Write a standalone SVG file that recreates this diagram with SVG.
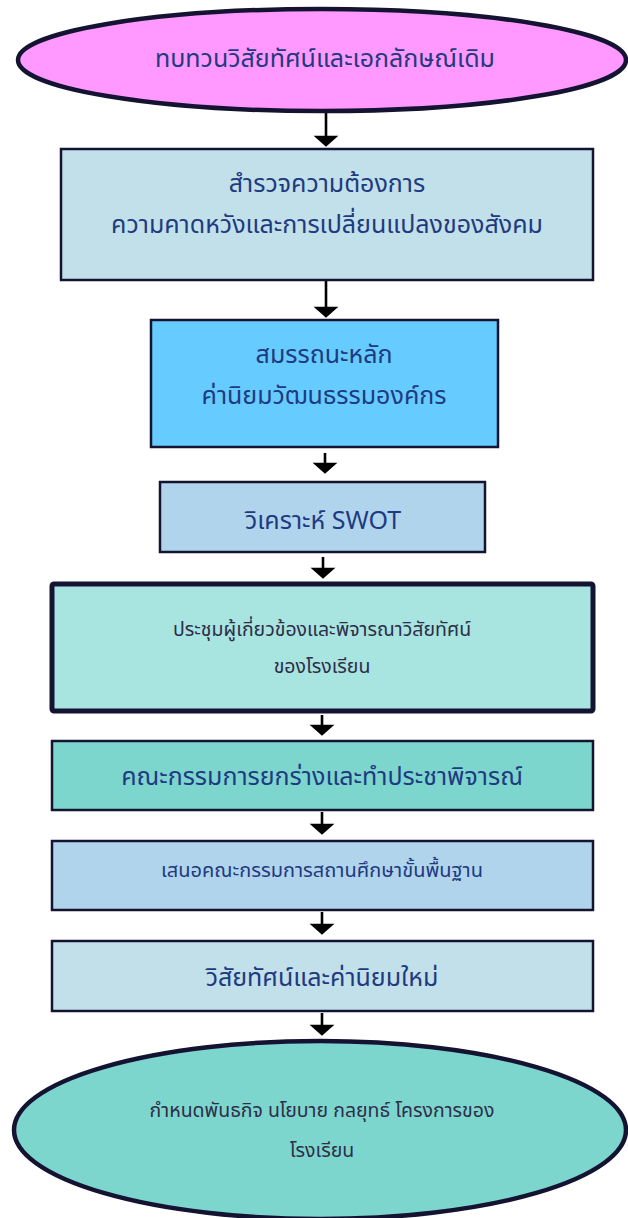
<svg xmlns="http://www.w3.org/2000/svg" width="628" height="1218" viewBox="0 0 628 1218">
<style>
.n{stroke:#141432;stroke-width:2.5}
.t{font-family:"Noto Sans Thai","Noto Sans","Liberation Sans",sans-serif;text-anchor:middle;fill:#1F3A80}
.b{font-size:25px}
.s{font-size:19.5px;fill:#2E2E48}
.a{stroke:#000;stroke-width:2.6;fill:#000}
</style>
<rect width="628" height="1218" fill="#fff"/>
<g id="connectors">
<path class="a" d="M326,112 V137 M317,137 H335 L326,145 Z"/>
<path class="a" d="M326,281 V308 M317,308 H335 L326,316 Z"/>
<path class="a" d="M325,453 V464 M316,464 H334 L325,472 Z"/>
<path class="a" d="M323,557 V569 M314,569 H332 L323,577 Z"/>
<path class="a" d="M322,715 V726 M313,726 H331 L322,734 Z"/>
<path class="a" d="M322,812 V825 M313,825 H331 L322,833 Z"/>
<path class="a" d="M322,912 V925 M313,925 H331 L322,933 Z"/>
<path class="a" d="M322,1013 V1026 M313,1026 H331 L322,1034 Z"/>
</g>
<g id="n1">
<ellipse cx="322" cy="60" rx="304" ry="51" fill="#FF99FF" stroke="#141432" stroke-width="4.5"/>
<text class="t b" x="325" y="67">ทบทวนวิสัยทัศน์และเอกลักษณ์เดิม</text>
</g>
<g id="n2">
<rect class="n" x="61" y="149" width="532" height="131" fill="#C1E0E9"/>
<text class="t b" x="327" y="192">สำรวจความต้องการ</text>
<text class="t b" x="327" y="233">ความคาดหวังและการเปลี่ยนแปลงของสังคม</text>
</g>
<g id="n3">
<rect class="n" x="151" y="320" width="347" height="127" fill="#66CCFF"/>
<text class="t b" x="324" y="363">สมรรถนะหลัก</text>
<text class="t b" x="324" y="404">ค่านิยมวัฒนธรรมองค์กร</text>
</g>
<g id="n4">
<rect class="n" x="160" y="482" width="325" height="70" fill="#B0D4EC"/>
<text class="t b" x="323" y="529">วิเคราะห์ SWOT</text>
</g>
<g id="n5">
<rect x="52" y="584" width="541" height="127" rx="2" fill="#A8E4E0" stroke="#141432" stroke-width="5"/>
<text class="t s" x="322" y="636">ประชุมผู้เกี่ยวข้องและพิจารณาวิสัยทัศน์</text>
<text class="t s" x="322" y="673">ของโรงเรียน</text>
</g>
<g id="n6">
<rect class="n" x="52" y="741" width="541" height="69" fill="#7DD6CE"/>
<text class="t b" x="322" y="785">คณะกรรมการยกร่างและทำประชาพิจารณ์</text>
</g>
<g id="n7">
<rect class="n" x="52" y="841" width="541" height="69" fill="#B0D4EC"/>
<text class="t" x="322" y="877" font-size="20">เสนอคณะกรรมการสถานศึกษาขั้นพื้นฐาน</text>
</g>
<g id="n8">
<rect class="n" x="52" y="941" width="541" height="70" fill="#C1E0E9"/>
<text class="t b" x="322" y="986">วิสัยทัศน์และค่านิยมใหม่</text>
</g>
<g id="n9">
<ellipse cx="320" cy="1130" rx="306" ry="89" fill="#7DD6CE" stroke="#141432" stroke-width="4.5"/>
<text class="t s" x="322" y="1117">กำหนดพันธกิจ นโยบาย กลยุทธ์ โครงการของ</text>
<text class="t s" x="322" y="1157">โรงเรียน</text>
</g>
</svg>
